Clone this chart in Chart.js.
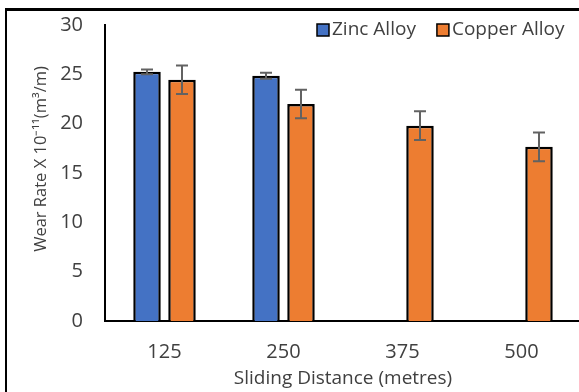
<!DOCTYPE html>
<html>
<head>
<meta charset="utf-8">
<script src="https://cdn.jsdelivr.net/npm/chart.js@4.4.0/dist/chart.umd.min.js"></script>
<style>
  html, body { margin: 0; padding: 0; background: #fff; overflow: hidden; }
  #wrap { position: relative; width: 579px; height: 392px; overflow: hidden; }
  #chart { position: absolute; left: 0; top: 0; }
  #frame {
    position: absolute; left: 5px; top: 8px; width: 700px; height: 500px;
    border-top: 3px solid #000; border-left: 2px solid #000; pointer-events: none;
  }
</style>
</head>
<body>
<div id="wrap">
  <canvas id="chart" width="581" height="392"></canvas>
  <div id="frame"></div>
</div>
<script>
// data
const distances = ['125', '250', '375', '500'];
const zincRate = [25.25, 24.85, null, null];
const zincErr = [0.25, 0.3, null, null];
const copperRate = [24.45, 22.0, 19.8, 17.65];
const copperErr = [1.45, 1.45, 1.45, 1.45];
const yMin = 0, yMax = 30, yStep = 5;
const yTitle = 'Wear Rate X 10⁻¹¹(m³/m)';

const FONT = "'Open Sans', 'Liberation Sans', sans-serif";
const TEXT = '#404040';

// error bars, drawn on top of the bars
const errorBars = {
  id: 'errorBars',
  afterDatasetsDraw(chart) {
    const ctx = chart.ctx;
    const y = chart.scales.y;
    chart.data.datasets.forEach((ds, i) => {
      const meta = chart.getDatasetMeta(i);
      meta.data.forEach((bar, j) => {
        const v = ds.data[j], e = ds.errors[j];
        if (v == null || e == null) return;
        const top = y.getPixelForValue(v + e);
        const bot = y.getPixelForValue(v - e);
        const cap = 6;
        ctx.save();
        ctx.strokeStyle = '#626262';
        ctx.lineWidth = 2;
        ctx.beginPath();
        ctx.moveTo(bar.x, top); ctx.lineTo(bar.x, bot);
        ctx.moveTo(bar.x - cap, top); ctx.lineTo(bar.x + cap, top);
        ctx.moveTo(bar.x - cap, bot); ctx.lineTo(bar.x + cap, bot);
        ctx.stroke();
        ctx.restore();
      });
    });
  }
};

// legend sits inside the plot, top right; y title sits a bit above centre
const insideLegend = {
  id: 'insideLegend',
  afterDraw(chart) {
    const ctx = chart.ctx;
    let x = 317;
    const yMid = 30;
    const box = 12;
    ctx.save();
    ctx.font = '19px ' + FONT;
    ctx.textBaseline = 'middle';
    chart.data.datasets.forEach(ds => {
      ctx.fillStyle = ds.backgroundColor;
      ctx.fillRect(x, yMid - box / 2, box, box);
      ctx.strokeStyle = '#000';
      ctx.lineWidth = 1.5;
      ctx.strokeRect(x, yMid - box / 2, box, box);
      ctx.fillStyle = TEXT;
      ctx.fillText(ds.label, x + box + 3, yMid);
      x += box + 3 + ctx.measureText(ds.label).width + 21;
    });

    ctx.translate(41, 159);
    ctx.rotate(-Math.PI / 2);
    ctx.font = '16.5px ' + FONT;
    ctx.textAlign = 'center';
    ctx.fillStyle = TEXT;
    ctx.fillText(yTitle, 0, 0);
    ctx.restore();
  }
};

new Chart(document.getElementById('chart'), {
  type: 'bar',
  data: {
    labels: distances,
    datasets: [
      {
        label: 'Zinc Alloy',
        data: zincRate,
        errors: zincErr,
        backgroundColor: '#4472C4',
        borderColor: '#000',
        borderWidth: 2.5
      },
      {
        label: 'Copper Alloy',
        data: copperRate,
        errors: copperErr,
        backgroundColor: '#ED7D31',
        borderColor: '#000',
        borderWidth: 2.5
      }
    ]
  },
  options: {
    responsive: false,
    animation: false,
    devicePixelRatio: 1,
    categoryPercentage: 0.588,
    barPercentage: 0.786,
    layout: { padding: { left: 0, right: 0, top: 25, bottom: 0 } },
    plugins: {
      legend: { display: false },
      tooltip: { enabled: false }
    },
    scales: {
      x: {
        grid: { display: false, drawTicks: false },
        border: { display: true, color: '#000', width: 2 },
        ticks: { color: TEXT, font: { family: FONT, size: 20 }, padding: 19 },
        title: {
          display: true,
          text: 'Sliding Distance (metres)',
          color: TEXT,
          font: { family: FONT, size: 19 },
          padding: { top: 0, bottom: 2 }
        },
        afterFit(scale) { scale.height = 71; }
      },
      y: {
        min: yMin,
        max: yMax,
        grid: { display: false, drawTicks: false },
        border: { display: true, color: '#000', width: 2 },
        ticks: { stepSize: yStep, color: TEXT, font: { family: FONT, size: 20 }, padding: 22 },
        afterFit(scale) {
          scale.width = 105;
          scale.paddingTop = 12;
          scale.paddingBottom = 12;
        }
      }
    }
  },
  plugins: [errorBars, insideLegend]
});
</script>
</body>
</html>
